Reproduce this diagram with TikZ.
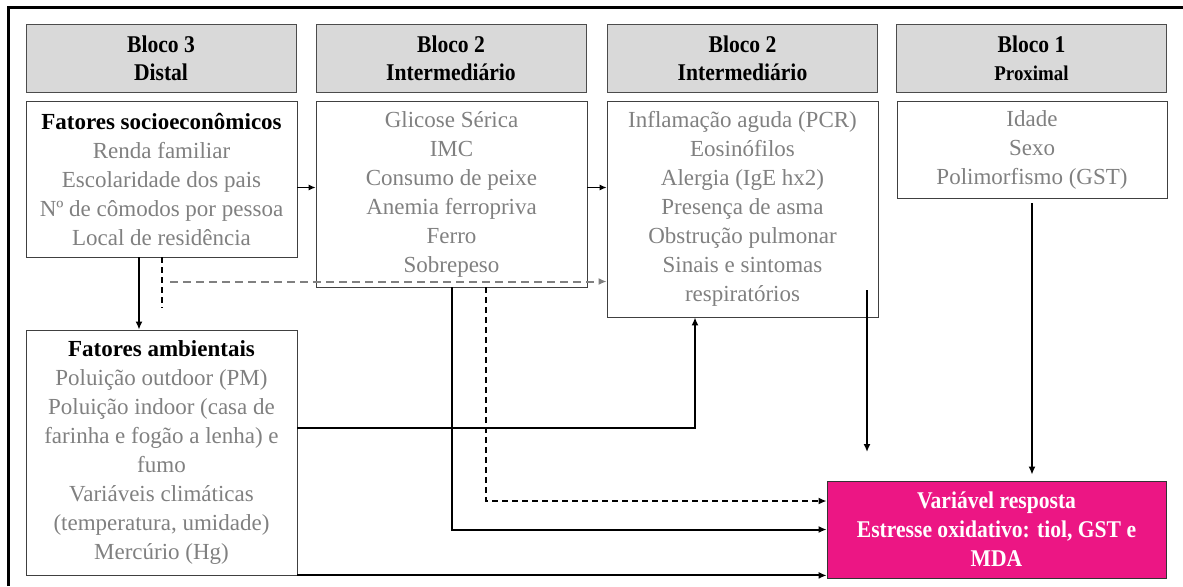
\documentclass[tikz,border=0pt]{standalone}
\usepackage{fontspec}
\setmainfont{Liberation Serif}
\newfontfamily\hdfont{Liberation Serif}[FakeStretch=0.9]
\usetikzlibrary{arrows.meta}
\definecolor{txtgray}{RGB}{128,128,128}
\definecolor{boxgray}{RGB}{217,217,217}
\definecolor{respmag}{RGB}{236,22,132}
\begin{document}
\begin{tikzpicture}[x=1pt,y=1pt]
    \tikzstyle{every node}+=[inner sep=0pt]
    \tikzstyle{hd}=[draw=black!70, fill=boxgray, minimum width=135pt, minimum height=34pt, align=center, font=\hdfont\bfseries\fontsize{12}{14}\selectfont]
    \tikzstyle{bx}=[draw=black!75, minimum width=135.5pt, align=center, text=txtgray, font=\fontsize{11.5}{14.5}\selectfont]
    \tikzstyle{arr}=[-{Latex[length=4pt,width=3.5pt]}, line width=1pt]
    \tikzstyle{thinarr}=[-{Latex[length=3.5pt,width=3pt]}, line width=0.6pt]
    \tikzstyle{dsh}=[line width=1pt, dash pattern=on 3pt off 2pt]
    \tikzstyle{gdsh}=[line width=1pt, txtgray, dash pattern=on 4pt off 2.5pt]
    \useasboundingbox (0,0) rectangle (591.5,-293);
    \draw [line width=1.5pt] (4,-293) -- (4,-3.5) -- (591.5,-3.5);
    \node [hd] (b3) at (80.5,-29) {Bloco 3\\Distal};
    \node [hd] (b2a) at (225.5,-29) {Bloco 2\\Intermediário};
    \node [hd] (b2b) at (371.25,-29) {Bloco 2\\Intermediário};
    \node [hd] (b1) at (515.75,-29) {Bloco 1\\{\fontsize{10.5}{14}\selectfont Proximal}};
    \node [bx, minimum height=78pt] (socio) at (80.75,-89.5) {{\bfseries\color{black}Fatores socioeconômicos}\\Renda familiar\\Escolaridade dos pais\\Nº de cômodos por pessoa\\Local de residência};
    \node [bx, minimum height=93pt] (glic) at (225.75,-97) {Glicose Sérica\\IMC\\Consumo de peixe\\Anemia ferropriva\\Ferro\\Sobrepeso};
    \node [bx, minimum height=108pt] (infl) at (371.25,-104.5) {Inflamação aguda (PCR)\\Eosinófilos\\Alergia (IgE hx2)\\Presença de asma\\Obstrução pulmonar\\Sinais e sintomas\\respiratórios};
    \node [bx, minimum width=135pt, minimum height=48.5pt] (idade) at (516,-74.75) {Idade\\Sexo\\Polimorfismo (GST)};
    \node [bx, minimum height=122.5pt] (amb) at (80.75,-226.25) {{\bfseries\color{black}Fatores ambientais}\\Poluição outdoor (PM)\\Poluição indoor (casa de\\farinha e fogão a lenha) e\\fumo\\Variáveis climáticas\\(temperatura, umidade)\\Mercúrio (Hg)};
    \node [draw=black!80, fill=respmag, text=white, minimum width=169.5pt, minimum height=48.5pt, align=center, font=\hdfont\bfseries\fontsize{12}{14.5}\selectfont] (resp) at (498.25,-264.75) {Variável resposta\\Estresse oxidativo: tiol, GST e\\MDA};
    \coordinate (rowA) at (0,-93.75);
    \coordinate (rowB) at (0,-213.85);
    \coordinate (dEnd) at (80.75,-154);
    \coordinate (gStart) at (85,-140.75);
    \coordinate (iEnd) at (433.5,-226);
    \coordinate (idEnd) at (idade.south |- resp.north);
    \draw [thinarr] (socio.east |- rowA) -- (glic.west |- rowA);
    \draw [thinarr] (glic.east |- rowA) -- (infl.west |- rowA);
    \draw [arr] ([xshift=-11.25pt]socio.south) -- ([xshift=-11.25pt]amb.north);
    \draw [dsh] (socio.south) -- (dEnd);
    \draw [gdsh, -{Latex[length=4pt,width=3.5pt]}] (gStart) -- (infl.west |- gStart);
    \draw [arr] (amb.east |- rowB) -| ([xshift=-23.75pt]infl.south);
    \draw [arr] (glic.south) |- (resp.west);
    \draw [dsh, -{Latex[length=4pt,width=3.5pt]}] ([xshift=17.25pt]glic.south) |- ([yshift=14.25pt]resp.west);
    \draw [arr] (amb.south east) -- (resp.west |- amb.south east);
    \draw [arr] ([xshift=62.25pt,yshift=13.5pt]infl.south) -- (iEnd);
    \draw [arr] ([yshift=-2.5pt]idade.south) -- ([yshift=3pt]idEnd);
\end{tikzpicture}
\end{document}
